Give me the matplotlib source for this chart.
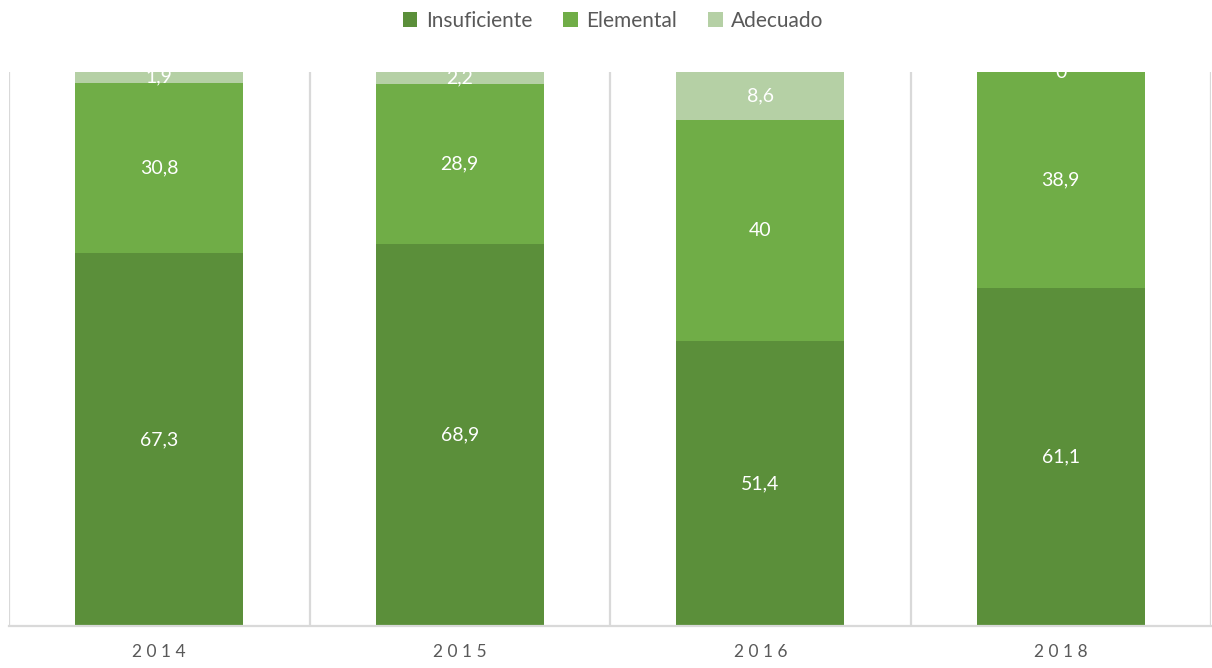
import matplotlib.pyplot as plt
import numpy as np

plt.rcParams["font.family"] = ["Lato", "DejaVu Sans"]

years = ["2014", "2015", "2016", "2018"]
insuficiente = [67.3, 68.9, 51.4, 61.1]
elemental = [30.8, 28.9, 40.0, 38.9]
adecuado = [1.9, 2.2, 8.6, 0.0]

series = [
    ("Insuficiente", insuficiente, "#5b8f3a"),
    ("Elemental", elemental, "#70ad47"),
    ("Adecuado", adecuado, "#b5d0a5"),
]


def fmt(v):
    # coma decimal como en el original
    s = ("%.1f" % v).rstrip("0").rstrip(".")
    return s.replace(".", ",")


fig = plt.figure(figsize=(12.12, 6.68), dpi=100)
ax = fig.add_axes([9 / 1212, 42 / 668, 1202 / 1212, 554 / 668])

x = np.arange(len(years))
bottom = np.zeros(len(years))
handles = []
for name, vals, color in series:
    vals = np.array(vals)
    b = ax.bar(x, vals, 0.56, bottom=bottom, color=color, label=name, zorder=2)
    handles.append(b)
    for xi, v, bo in zip(x, vals, bottom):
        ax.text(xi, bo + v / 2, fmt(v), ha="center", va="center",
                color="white", fontsize=14, clip_on=True, zorder=3)
    bottom += vals

ax.set_xlim(-0.5, len(years) - 0.5)
ax.set_ylim(0, 100)
for xb in np.arange(-0.5, len(years), 1.0):
    ax.axvline(xb, color="#d9d9d9", lw=1.6, zorder=1)

for s in ["top", "right", "left"]:
    ax.spines[s].set_visible(False)
ax.spines["bottom"].set_color("#d9d9d9")
ax.spines["bottom"].set_linewidth(1.6)
ax.set_yticks([])
ax.set_xticks(x)
ax.set_xticklabels([" ".join(y) for y in years], fontsize=12.5, color="#595959")
ax.tick_params(axis="x", length=0, pad=13)

fig.legend(handles=handles, loc="upper center", bbox_to_anchor=(0.506, 1.012),
           ncol=3, frameon=False, fontsize=15, handlelength=0.7,
           handleheight=0.7, handletextpad=0.4, columnspacing=1.5,
           labelcolor="#595959")

fig.savefig("out.png", dpi=100)
